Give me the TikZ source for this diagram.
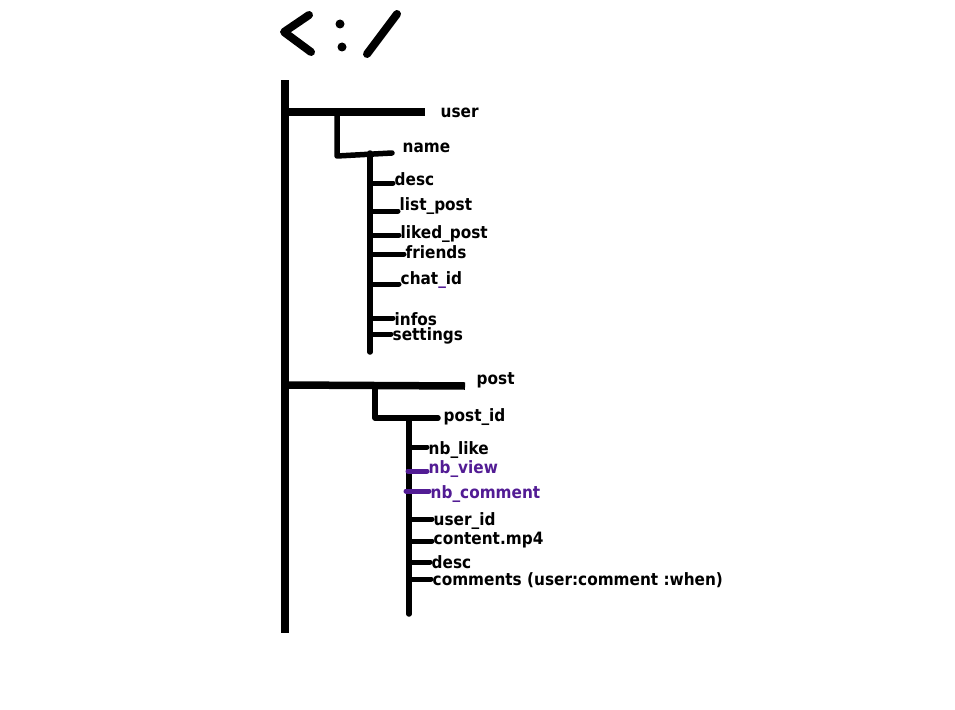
\documentclass[tikz,border=0pt]{standalone}
\usepackage{fontspec}
\setmainfont{DejaVu Sans Condensed}
\definecolor{lbpurple}{RGB}{82,28,148}
\tikzset{
  thick line/.style={line width=7.5pt},
  tree line/.style={line width=5.5pt},
  tick line/.style={line width=5pt},
  lbl/.style={anchor=west,inner xsep=1.5pt,inner ysep=0pt,font=\fontsize{17}{20}\selectfont\bfseries},
  purplelbl/.style={lbl,text=lbpurple},
}
\begin{document}
\begin{tikzpicture}[x=1pt,y=-1pt,line cap=round]
\useasboundingbox (0,0) rectangle (955,709);
% logo
\draw[line width=8pt,line join=round] (309,15) -- (284,32) -- (311,52);
\fill (340,24) circle (4.5pt);
\fill (342,47) circle (4.5pt);
\draw[line width=8pt] (397,14) -- (367,54);
% trunk
\coordinate (t0) at (285,80);
\coordinate (t1) at (285,633);
\draw[thick line,line cap=butt] (t0) -- (t1);
% user branch
\node[lbl] (user) at (439,113) {user};
\coordinate (tu) at (285,112);
\coordinate (ue) at (425,112);
\draw[thick line,line cap=butt] (tu) -- (ue);
\coordinate (ub) at (337,112);
\coordinate (uc) at (337,156);
\coordinate (ud) at (392,153);
\draw[tree line,line join=round] (ub) -- (uc) -- (ud);
\coordinate (v0) at (370,153);
\coordinate (v1) at (370,352);
\draw[tree line] (v0) -- (v1);
\node[lbl] (name) at (401,148) {name};
\node[lbl] (desc) at (393,179) {desc};
\node[lbl] (listpost) at (398,206) {list\_post};
\node[lbl] (liked) at (399,234) {liked\_post};
\node[lbl] (friends) at (404,252) {friends};
\node[lbl] (chat) at (399,280) {chat\textcolor{lbpurple}{\_}id};
\node[lbl] (infos) at (393,319) {infos};
\node[lbl] (settings) at (391,336) {settings};
\foreach \y/\n in {183/desc,211/listpost,235/liked,254/friends,284/chat,318/infos,334/settings}{
  \coordinate (s\n) at (370,\y);
  \draw[tick line] (s\n) -- (\n.west |- s\n);
}
% post branch
\node[lbl] (post) at (475,380) {post};
\coordinate (tp) at (285,385);
\coordinate (pe) at (465,386);
\draw[thick line,line cap=butt] (tp) -- (pe);
\coordinate (pb) at (375,386);
\coordinate (pc) at (375,418);
\coordinate (pd) at (438,418);
\draw[tree line,line join=round] (pb) -- (pc) -- (pd);
\node[lbl] (postid) at (442,417) {post\_id};
\coordinate (w0) at (409,418);
\coordinate (w1) at (409,614);
\draw[tree line] (w0) -- (w1);
\node[lbl] (nblike) at (427,450) {nb\_like};
\node[purplelbl] (nbview) at (427,469) {nb\_view};
\node[purplelbl] (nbcomment) at (429,494) {nb\_comment};
\node[lbl] (userid) at (432,521) {user\_id};
\node[lbl] (content) at (432,540) {content.mp4};
\node[lbl] (pdesc) at (430,562) {desc};
\node[lbl] (comments) at (431,580) {comments (user:comment :when)};
\foreach \y/\n in {447/nblike,519/userid,541/content,562/pdesc,579/comments}{
  \coordinate (s\n) at (409,\y);
  \draw[tick line] (s\n) -- (\n.west |- s\n);
}
\foreach \y/\n/\x in {471/nbview/408,491/nbcomment/406}{
  \coordinate (s\n) at (\x,\y);
  \draw[tick line,lbpurple] (s\n) -- (\n.west |- s\n);
}
\end{tikzpicture}
\end{document}
